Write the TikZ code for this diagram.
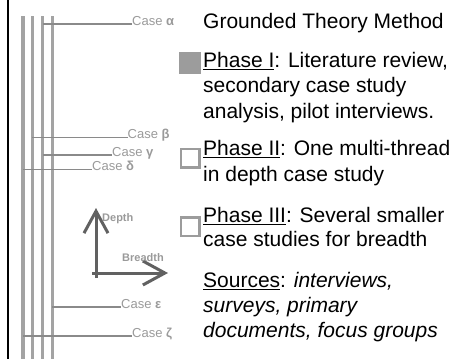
\documentclass[tikz,border=0pt]{standalone}
\usepackage{fontspec}
\setmainfont{Liberation Sans}
\usetikzlibrary{arrows.meta}
\definecolor{trunk}{HTML}{A3A3A3}
\definecolor{branch}{HTML}{8A8A8A}
\definecolor{caseink}{HTML}{9A9A9A}
\definecolor{axisink}{HTML}{616161}
\definecolor{markgray}{HTML}{9C9C9C}
% underline with a rule that suits the large body text
\newcommand\ulword[1]{\setbox0\hbox{#1}\rlap{\rule[-3.2pt]{\wd0}{1.4pt}}\box0}
\newcommand\casefont{\fontsize{13}{15}\selectfont}
\newcommand\axisfont{\fontsize{11}{13}\selectfont\bfseries}
\begin{document}
\begin{tikzpicture}[x=1pt,y=-1pt,
  trunkline/.style={draw=trunk, line width=3.2pt},
  branchline/.style={draw=branch, line width=1.8pt},
  caselabel/.style={anchor=base west, inner sep=0pt, text=caseink,
    font=\casefont},
  axisline/.style={draw=axisink, line width=3pt,
    -{Straight Barb[length=22pt,width=24pt]}},
  axislabel/.style={inner sep=0pt, text=caseink, font=\axisfont},
  body/.style={anchor=base west, inner sep=0pt,
    font=\fontsize{21}{25}\selectfont},
  filledmark/.style={fill=markgray, minimum size=22pt, inner sep=0pt},
  openmark/.style={draw=markgray, line width=2.5pt, minimum size=18.5pt, inner sep=0pt}]
\useasboundingbox (0,0) rectangle (473,359);

% left edge
\coordinate (edgetop) at (7.5,0);
\coordinate (edgebot) at (7.5,359);
\draw[black, line width=2pt] (edgetop) -- (edgebot);

% four trunk lines
\foreach \i/\x in {1/23, 2/32.3, 3/42.8, 4/52.3} {
  \coordinate (t\i top) at (\x,16);
  \coordinate (t\i bot) at (\x,359);
  \draw[trunkline] (t\i top) -- (t\i bot);
}

% case branches
\coordinate (ba) at (42.8,24);
\node[caselabel] (ca) at (132,25) {Case \textbf{α}};
\draw[branchline] (ba) -- (ba -| ca.west);

\coordinate (bb) at (32.3,137.5);
\node[caselabel] (cb) at (127.5,138.5) {Case \textbf{β}};
\draw[branchline] (bb) -- (bb -| cb.west);

\coordinate (bg) at (42.8,155);
\node[caselabel] (cg) at (112,156) {Case \textbf{γ}};
\draw[branchline] (bg) -- (bg -| cg.west);

\coordinate (bd) at (23,169.5);
\node[caselabel] (cd) at (92,170.5) {Case \textbf{δ}};
\draw[branchline] (bd) -- (bd -| cd.west);

\coordinate (be) at (52.3,307);
\node[caselabel] (ce) at (121,308) {Case \textbf{ε}};
\draw[branchline] (be) -- (be -| ce.west);

\coordinate (bz) at (23,336);
\node[caselabel] (cz) at (132,337) {Case \textbf{ζ}};
\draw[branchline] (bz) -- (bz -| cz.west);

% depth / breadth axes
\coordinate (depth0) at (96,278);
\coordinate (depth1) at (96,208);
\coordinate (breadth0) at (92,273);
\coordinate (breadth1) at (168,273);
\draw[axisline] (depth0) -- (depth1);
\draw[axisline] (breadth0) -- (breadth1);
\node[axislabel, anchor=west] (dlabel) at (102,219) {Depth};
\node[axislabel, anchor=base west] (blabel) at (122,261) {Breadth};

% phase markers
\node[filledmark] (m1) at (190,63) {};
\node[openmark] (m2) at (190,158.3) {};
\node[openmark] (m3) at (190,226.5) {};

% text column
\node[body] (title) at (203,28) {Grounded Theory Method};
\node[body] (p1a) at (203,67) {\ulword{Phase I}: Literature review,};
\node[body] (p1b) at (203,92.5) {secondary case study};
\node[body] (p1c) at (203,118) {analysis, pilot interviews.};
\node[body] (p2a) at (203,155) {\ulword{Phase II}: One multi-thread};
\node[body] (p2b) at (203,181) {in depth case study};
\node[body] (p3a) at (203,222) {\ulword{Phase III}: Several smaller};
\node[body] (p3b) at (203,246.5) {case studies for breadth};
\node[body] (s1) at (203,287) {\ulword{Sources}: \textit{interviews,}};
\node[body] (s2) at (203,312) {\textit{surveys, primary}};
\node[body] (s3) at (203,337) {\textit{documents, focus groups}};
\end{tikzpicture}
\end{document}
